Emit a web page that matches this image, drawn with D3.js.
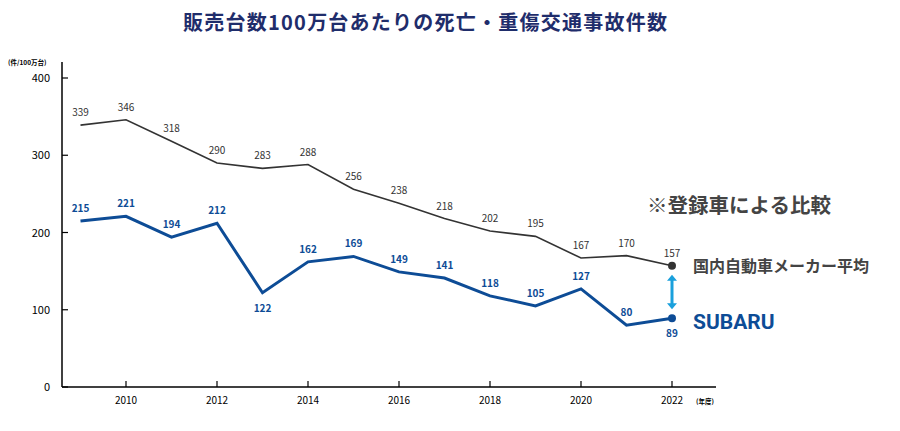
<!DOCTYPE html><html><head><meta charset="utf-8"><script src="https://cdn.jsdelivr.net/npm/d3@7"></script>
<style>body{margin:0;background:#fff}text{font-family:"Noto Sans CJK JP","Noto Sans",sans-serif}</style></head><body><svg id="c" width="900" height="431"></svg><script>
const years=[2009,2010,2011,2012,2013,2014,2015,2016,2017,2018,2019,2020,2021,2022];
const avg=[339,346,318,290,283,288,256,238,218,202,195,167,170,157];
const subaru=[215,221,194,212,122,162,169,149,141,118,105,127,80,89];
const yTicks=[0,100,200,300,400];
const xTicks=[2010,2012,2014,2016,2018,2020,2022];
const svg=d3.select("#c");
const x=d3.scaleLinear().domain([2010,2022]).range([126,672]);
const y=d3.scaleLinear().domain([0,400]).range([387,78]);
const navy="#0d4c96",grey="#333";
svg.append("text").attr("x",425).attr("y",30).attr("text-anchor","middle").attr("font-size",20).attr("font-weight",700).attr("fill","#1f2d6b").attr("textLength",484).text("販売台数100万台あたりの死亡・重傷交通事故件数");
svg.append("line").attr("x1",62).attr("x2",62).attr("y1",62).attr("y2",387).attr("stroke","#000").attr("stroke-width",1.5);
svg.append("line").attr("x1",62).attr("x2",716).attr("y1",387).attr("y2",387).attr("stroke","#000").attr("stroke-width",1.5);
yTicks.forEach(t=>{svg.append("line").attr("x1",62).attr("x2",68).attr("y1",y(t)).attr("y2",y(t)).attr("stroke","#000").attr("stroke-width",1.2);
svg.append("text").attr("x",50).attr("y",y(t)+4).attr("text-anchor","end").attr("font-size",11).text(t);});
xTicks.forEach(t=>{svg.append("line").attr("x1",x(t)).attr("x2",x(t)).attr("y1",387).attr("y2",381).attr("stroke","#000").attr("stroke-width",1.2);
svg.append("text").attr("x",x(t)).attr("y",404).attr("text-anchor","middle").attr("font-size",10).text(t);});
svg.append("text").attr("x",8).attr("y",65).attr("font-size",6.5).attr("font-weight",700).text("(件/100万台)");
svg.append("text").attr("x",696).attr("y",404).attr("font-size",6.5).attr("font-weight",700).text("(年度)");
const line=d3.line().x((d,i)=>x(years[i])).y(d=>y(d));
svg.append("path").attr("d",line(avg)).attr("fill","none").attr("stroke",grey).attr("stroke-width",1.6);
svg.append("path").attr("d",line(subaru)).attr("fill","none").attr("stroke",navy).attr("stroke-width",3);
avg.forEach((v,i)=>svg.append("text").attr("x",x(years[i])).attr("y",y(v)-9).attr("text-anchor","middle").attr("font-size",10).attr("fill",grey).text(v));
subaru.forEach((v,i)=>{const below=(i===4||i===13);svg.append("text").attr("x",x(years[i])).attr("y",below?y(v)+19:y(v)-9).attr("text-anchor","middle").attr("font-size",10).attr("font-weight",600).attr("fill",navy).text(v);});
const L=years.length-1;
svg.append("circle").attr("cx",x(years[L])).attr("cy",y(avg[L])).attr("r",4).attr("fill",grey);
svg.append("circle").attr("cx",x(years[L])).attr("cy",y(subaru[L])).attr("r",4).attr("fill",navy);
const ax=x(years[L]),a1=y(avg[L])+9,a2=y(subaru[L])-9;
svg.append("line").attr("x1",ax).attr("x2",ax).attr("y1",a1+4).attr("y2",a2-4).attr("stroke","#1aa0dc").attr("stroke-width",3);
svg.append("path").attr("d",`M${ax-5},${a1+6}L${ax},${a1}L${ax+5},${a1+6}Z M${ax-5},${a2-6}L${ax},${a2}L${ax+5},${a2-6}Z`).attr("fill","#1aa0dc");
svg.append("text").attr("x",693).attr("y",272).attr("font-size",16).attr("font-weight",700).attr("fill","#444").text("国内自動車メーカー平均");
svg.append("text").attr("x",693).attr("y",329).attr("font-size",21).attr("font-weight",700).attr("fill",navy).attr("style","font-family:Roboto").text("SUBARU");
svg.append("text").attr("x",647).attr("y",213).attr("font-size",20.5).attr("font-weight",700).attr("fill","#444").text("※登録車による比較");
</script></body></html>
